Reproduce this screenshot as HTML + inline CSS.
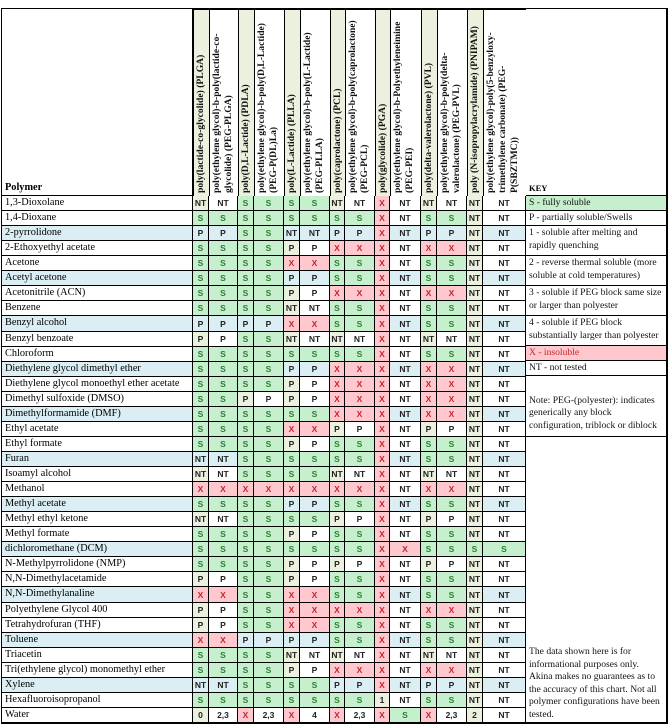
<!DOCTYPE html>
<html><head><meta charset="utf-8">
<style>
html,body{margin:0;padding:0;background:#fff;}
#tbl{position:relative;width:671px;height:727px;overflow:hidden;}
.c{position:absolute;box-sizing:border-box;border-right:1px solid #000;border-bottom:1px solid #000;}
.v{font-family:"Liberation Sans",sans-serif;font-weight:bold;font-size:8.5px;display:flex;align-items:center;justify-content:center;color:#222;}
.nm{font-family:"Liberation Serif",serif;font-size:10.3px;padding-left:3px;line-height:14px;white-space:nowrap;color:#000;}
.hd{font-family:"Liberation Serif",serif;font-weight:bold;font-size:9.6px;line-height:12px;writing-mode:vertical-rl;transform:rotate(180deg);padding:3px 1px;color:#111;}
.key{font-family:"Liberation Serif",serif;font-size:9.6px;line-height:12.5px;padding:1px 3px;color:#111;}
</style></head><body>
<div id="tbl"></div>
<script>
const polymers=["poly(lactide-co-glycolide) (PLGA)","poly(ethylene glycol)-b-poly(lactide-co-glycolide) (PEG-PLGA)","poly(D,L-Lactide) (PDLA)","poly(ethylene glycol)-b-poly(D,L-Lactide) (PEG-P(DL)La)","poly(L-Lactide) (PLLA)","poly(ethylene glycol)-b-poly(L-Lactide) (PEG-PLLA)","poly(caprolactone) (PCL)","poly(ethylene glycol)-b-poly(caprolactone) (PEG-PCL)","poly(glycolide) (PGA)","poly(ethylene glycol)-b-Polyethyleneimine (PEG-PEI)","poly(delta-valerolactone) (PVL)","poly(ethylene glycol)-b-poly(delta-valerolactone) (PEG-PVL)","poly (N-isopropylacrylamide) (PNIPAM)","poly(ethylene glycol)-poly(5-benzyloxy-trimethylene carbonate) (PEG-P(SBZTMC))"];
const solvents=["1,3-Dioxolane","1,4-Dioxane","2-pyrrolidone","2-Ethoxyethyl acetate","Acetone","Acetyl acetone","Acetonitrile (ACN)","Benzene","Benzyl alcohol","Benzyl benzoate","Chloroform","Diethylene glycol dimethyl ether","Diethylene glycol monoethyl ether acetate","Dimethyl sulfoxide (DMSO)","Dimethylformamide (DMF)","Ethyl acetate","Ethyl formate","Furan","Isoamyl alcohol","Methanol","Methyl acetate","Methyl ethyl ketone","Methyl formate","dichloromethane (DCM)","N-Methylpyrrolidone (NMP)","N,N-Dimethylacetamide","N,N-Dimethylanaline","Polyethylene Glycol 400","Tetrahydrofuran (THF)","Toluene","Triacetin","Tri(ethylene glycol) monomethyl ether","Xylene","Hexafluoroisopropanol","Water"];
const values=[
"NT NT S S S S NT NT X NT NT NT NT NT","S S S S S S S S X NT S S NT NT","P P S S NT NT P P X NT P P NT NT","S S S S P P X X X NT X X NT NT","S S S S X X S S X NT S S NT NT","S S S S P P S S X NT S S NT NT","S S S S P P X X X NT X X NT NT","S S S S NT NT S S X NT S S NT NT","P P P P X X S S X NT S S NT NT","P P S S NT NT NT NT X NT NT NT NT NT","S S S S S S S S X NT S S NT NT","S S S S P P X X X NT X X NT NT","S S S S P P X X X NT X X NT NT","S S P P P P X X X NT X X NT NT","S S S S S S X X X NT X X NT NT","S S S S X X P P X NT P P NT NT","S S S S P P S S X NT S S NT NT","NT NT S S S S S S X NT S S NT NT","NT NT S S S S NT NT X NT NT NT NT NT","X X X X X X X X X NT X X NT NT","S S S S P P S S X NT S S NT NT","NT NT S S S S P P X NT P P NT NT","S S S S P P S S X NT S S NT NT","S S S S S S S S X X S S S S","S S S S P P P P X NT P P NT NT","P P S S P P S S X NT S S NT NT","X X S S X X S S X NT S S NT NT","P P S S X X X X X NT X X NT NT","P P S S X X S S X NT S S NT NT","X X P P P P S S X NT S S NT NT","S S S S NT NT NT NT X NT NT NT NT NT","S S S S P P X X X NT X X NT NT","NT NT S S S S P P X NT P P NT NT","S S S S S S S S 1 NT S S NT NT","0 2,3 X 2,3 X 4 X 2,3 X S X 2,3 2 NT"];
const keyItems=["S - fully soluble","P - partially soluble/Swells","1 - soluble after melting and rapidly quenching","2 - reverse thermal soluble (more soluble at cold temperatures)","3 - soluble if PEG block same size or larger than polyester","4 - soluble if PEG block substantially larger than polyester","X - insoluble","NT - not tested"];

const T=document.getElementById('tbl');
const colX=[2,193,209,238,254,284,300,330,345,375,390,421,437,467,483,526,667];
const top0=9, hdrB=196, rowH=(723-196)/35;
function cell(x,y,w,h,cls,bg){const d=document.createElement('div');d.className='c '+cls;d.style.left=x+'px';d.style.top=y+'px';d.style.width=w+'px';d.style.height=h+'px';if(bg)d.style.background=bg;T.appendChild(d);return d;}
const ob=cell(colX[0]-1,top0-1,667-colX[0]+2,723-top0+2,'','');
ob.style.border='1px solid #000';


let h=cell(colX[0],top0,colX[1]-colX[0],hdrB-top0,'nm','');
h.style.display='flex';h.style.alignItems='flex-end';h.style.fontWeight='bold';h.textContent='Polymer';


polymers.forEach((p,j)=>{
  const narrow=j%2===0;
  const d=cell(colX[j+1],top0,colX[j+2]-colX[j+1],hdrB-top0,'hd',narrow?'#ebf1de':'#fff');
  d.textContent=p;
  
  
});
h=cell(colX[15],top0,colX[16]-colX[15],hdrB-top0,'nm','');
h.style.display='flex';h.style.alignItems='flex-end';h.style.fontSize='8.5px';h.style.fontWeight='bold';h.textContent='KEY';


solvents.forEach((s,i)=>{
  const y=Math.round(hdrB+i*rowH), y2=Math.round(hdrB+(i+1)*rowH);
  const blue=i%3===2;
  const rb=blue?'#daeef3':'#fff';
  const n=cell(colX[0],y,colX[1]-colX[0],y2-y,'nm',rb);
  n.textContent=s;
  
  
  const vals=values[i].split(' ');
  vals.forEach((v,j)=>{
    let bg=rb,col='#222';
    if(v==='S'){bg='#c6efce';col='#2e7d32';}
    else if(v==='X'){bg='#ffc7ce';col='#c0282e';}
    else if(j===12||(!blue&&j%2===0))bg='#ebf1de';
    const c=cell(colX[j+1],y,colX[j+2]-colX[j+1],y2-y,'v',bg);
    c.style.color=col;c.textContent=v;
    
    
  });
});
const keyRows=[[196,211],[211,226],[226,256],[256,286],[286,316],[316,346],[346,361],[361,376]];
keyItems.forEach((k,i)=>{
  const [a,b]=keyRows[i];
  const bg=i===0?'#c6efce':(i===6?'#ffc7ce':'#fff');
  const d=cell(colX[15],a,colX[16]-colX[15],b-a,'key',bg);
  if(i===6)d.style.color='#c0282e';
  d.textContent=k;
  
  
});
let note=cell(colX[15],376,colX[16]-colX[15],437-376,'key','#fff');
note.style.display='flex';note.style.alignItems='flex-end';note.style.paddingBottom='4px';
note.textContent='Note: PEG-(polyester): indicates generically any block configuration, triblock or diblock';


let disc=cell(colX[15],437,colX[16]-colX[15],723-437,'key','#fff');
disc.style.display='flex';disc.style.alignItems='flex-end';
disc.textContent='The data shown here is for informational purposes only. Akina makes no guarantees as to the accuracy of this chart. Not all polymer configurations have been tested.';


</script>
</body></html>
